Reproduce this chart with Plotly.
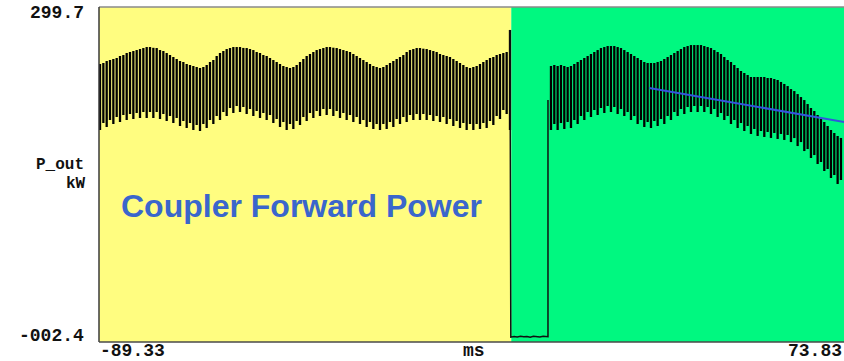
import plotly.graph_objects as go

# Scope trace: coupler forward power P_out (kW) against time (ms)
X_MIN_MS, X_MAX_MS = -89.33, 72.09
Y_MIN_KW, Y_MAX_KW = -2.4, 299.7
X_LEFT_LABEL, X_RIGHT_LABEL = "-89.33", "73.83"
Y_TOP_LABEL, Y_BOTTOM_LABEL = "299.7", "-002.4"

STEP_MS = 0.7222  # spacing between displayed sample columns

# Before the switch-over (t < 0): top / bottom of each sample column
pre_t0_ms = -89.11
pre_hi_kw = [
    248.3, 249.2, 251.0, 251.9, 252.8, 253.7, 255.5, 256.4, 258.2, 259.1,
    260.0, 260.9, 261.8, 262.7, 263.6, 263.6, 262.9, 262.7, 260.9, 260.0,
    258.2, 256.4, 254.6, 252.8, 251.0, 250.1, 248.3, 247.4, 246.5, 245.6,
    244.7, 245.6, 247.4, 250.1, 251.9, 255.5, 258.2, 260.0, 261.8, 262.7,
    263.6, 263.6, 263.6, 262.8, 262.7, 261.8, 260.9, 259.1, 258.2, 256.4,
    255.5, 253.7, 251.9, 250.1, 248.3, 246.5, 245.6, 244.7, 245.6, 247.4,
    250.1, 252.8, 255.5, 257.3, 259.1, 260.9, 261.8, 262.7, 263.6, 263.6,
    263.0, 262.7, 261.8, 260.9, 260.0, 259.1, 257.3, 255.5, 253.7, 251.9,
    250.1, 248.3, 246.5, 245.6, 244.7, 245.6, 247.4, 249.2, 251.0, 252.8,
    254.6, 256.4, 259.1, 260.9, 261.8, 262.7, 262.7, 262.1, 261.8, 260.9,
    260.0, 259.1, 257.3, 256.4, 255.5, 254.6, 252.8, 251.0, 249.2, 247.4,
    245.6, 244.7, 245.6, 246.5, 248.3, 250.1, 251.9, 253.7, 254.6, 256.4,
    257.3, 258.2, 259.1, 279.0,
]
pre_lo_kw = [
    188.8, 195.1, 191.5, 197.8, 194.2, 200.5, 196.0, 202.3, 197.8, 203.2,
    198.7, 204.1, 199.6, 205.0, 199.6, 205.0, 199.6, 205.0, 198.7, 203.2,
    196.9, 201.4, 195.1, 199.6, 192.4, 196.9, 190.6, 195.1, 188.8, 193.3,
    187.9, 194.2, 190.6, 197.8, 194.2, 201.4, 197.8, 205.0, 201.4, 208.6,
    204.1, 210.4, 205.0, 209.5, 203.2, 207.7, 201.4, 205.9, 199.6, 204.1,
    197.8, 202.3, 195.1, 198.7, 191.5, 196.0, 188.8, 194.2, 189.7, 196.9,
    193.3, 200.5, 196.9, 204.1, 199.6, 205.9, 201.4, 207.7, 202.3, 207.7,
    201.4, 205.9, 199.6, 204.1, 197.8, 202.3, 196.0, 200.5, 194.2, 197.8,
    191.5, 196.0, 189.7, 194.2, 188.8, 194.2, 189.7, 196.0, 191.5, 198.7,
    194.2, 200.5, 196.0, 202.3, 197.8, 203.2, 197.8, 203.2, 197.8, 202.3,
    196.9, 201.4, 196.0, 200.5, 194.2, 198.7, 192.4, 196.9, 190.6, 195.1,
    188.8, 194.2, 188.8, 194.2, 189.7, 195.1, 190.6, 196.9, 193.3, 201.4,
    198.7, 206.8, 203.2, 188.8,
]

# RF off: spike, drop to the baseline, and the turn-on edge
gap_t_ms = [-0.28, -0.10, 0.60, 1.30, 2.00, 2.70, 3.40, 4.10, 4.80,
            5.50, 6.20, 6.90, 7.60, 7.95, 7.95]
gap_kw = [279.0, 2.0, 2.5, 2.1, 2.7, 2.3, 2.6, 2.0, 2.8,
          2.4, 2.2, 2.7, 2.3, 2.4, 215.8]

# After the switch-over
post_t0_ms = 8.60
post_hi_kw = [
    246.5, 247.4, 246.5, 247.4, 246.5, 245.6, 246.5, 248.3, 250.1, 251.9,
    253.7, 255.5, 257.3, 259.1, 260.9, 262.7, 263.6, 264.5, 264.5, 264.5,
    263.6, 262.7, 260.9, 259.1, 257.3, 255.5, 253.7, 251.9, 250.1, 249.2,
    249.2, 249.2, 250.1, 251.0, 252.8, 254.6, 256.4, 258.2, 260.0, 261.8,
    263.6, 264.5, 265.4, 265.4, 265.4, 265.4, 264.5, 263.6, 262.7, 260.9,
    259.1, 257.3, 254.6, 251.9, 250.1, 247.4, 244.7, 242.0, 240.2, 238.4,
    236.6, 236.6, 236.6, 236.6, 236.6, 235.7, 235.7, 234.8, 233.9, 232.1,
    230.3, 228.4, 225.7, 223.9, 221.2, 218.5, 215.8, 212.2, 208.6, 205.9,
    202.3, 198.7, 196.0, 192.4, 188.8, 186.1, 183.4, 181.6,
]
post_lo_kw = [
    188.8, 194.2, 188.8, 195.1, 189.7, 196.0, 190.6, 197.8, 194.2, 201.4,
    197.8, 205.0, 200.5, 206.8, 202.3, 208.6, 204.1, 210.4, 205.0, 209.5,
    203.2, 207.7, 201.4, 205.0, 197.8, 201.4, 194.2, 197.8, 191.5, 196.0,
    190.6, 196.9, 192.4, 198.7, 194.2, 201.4, 197.8, 205.0, 201.4, 207.7,
    203.2, 209.5, 205.0, 210.4, 205.0, 210.4, 205.0, 209.5, 203.2, 207.7,
    200.5, 204.1, 197.8, 201.4, 194.2, 197.8, 190.6, 195.1, 187.9, 192.4,
    185.2, 189.7, 183.4, 187.9, 182.5, 187.0, 181.6, 186.1, 180.7, 185.2,
    179.8, 184.3, 177.9, 181.5, 174.3, 177.9, 169.8, 171.6, 163.5, 166.2,
    158.1, 159.9, 151.8, 153.6, 145.5, 148.2, 140.1, 143.7,
]

# Droop marker drawn over the post-switch pulse
trend_t_ms = [29.9, 73.83]
trend_kw = [226.7, 194.8]

YELLOW = "#FFFD80"
GREEN = "#00F880"
BLUE_TEXT = "#3A66CC"
BLUE_LINE = "#3355DD"


def columns(t0, hi, lo):
    xs, ys = [], []
    for i, (h, l) in enumerate(zip(hi, lo)):
        t = t0 + i * STEP_MS
        xs += [t, t, None]
        ys += [l, h, None]
    return xs, ys


pre_x, pre_y = columns(pre_t0_ms, pre_hi_kw, pre_lo_kw)
post_x, post_y = columns(post_t0_ms, post_hi_kw, post_lo_kw)

fig = go.Figure()
fig.add_trace(go.Scatter(x=pre_x, y=pre_y, mode="lines",
                         line=dict(color="#000000", width=2.3), hoverinfo="skip"))
fig.add_trace(go.Scatter(x=gap_t_ms, y=gap_kw, mode="lines",
                         line=dict(color="#101010", width=1.5), hoverinfo="skip"))
fig.add_trace(go.Scatter(x=post_x, y=post_y, mode="lines",
                         line=dict(color="#000000", width=2.3), hoverinfo="skip"))
fig.add_trace(go.Scatter(x=trend_t_ms, y=trend_kw, mode="lines",
                         line=dict(color=BLUE_LINE, width=2), hoverinfo="skip"))

shapes = [
    dict(type="rect", xref="x", yref="paper", x0=X_MIN_MS, x1=0, y0=0, y1=1,
         fillcolor=YELLOW, line=dict(width=0), layer="below"),
    dict(type="rect", xref="x", yref="paper", x0=0, x1=X_MAX_MS, y0=0, y1=1,
         fillcolor=GREEN, line=dict(width=0), layer="below"),
    dict(type="line", xref="paper", yref="paper", x0=0, x1=1, y0=1, y1=1,
         line=dict(color="#8A8A8A", width=1.5)),
    dict(type="line", xref="paper", yref="paper", x0=0, x1=0, y0=0, y1=1,
         line=dict(color="#3A3A3A", width=1.5)),
    dict(type="line", xref="paper", yref="paper", x0=0, x1=1, y0=0, y1=0,
         line=dict(color="#4A4A4A", width=1.5)),
]


def label(text, x, y, xanchor, size=18):
    return dict(text=text, x=x, y=y, xref="paper", yref="paper", showarrow=False,
                xanchor=xanchor, yanchor="middle", borderpad=0,
                font=dict(family="Liberation Mono", size=size, color="#111111",
                          weight="bold"))


annotations = [
    label(Y_TOP_LABEL, -0.0188, 0.982, "right"),
    label("P_out", -0.0188, 0.528, "right", 16),
    label("kW", -0.0161, 0.472, "right", 16),
    label(Y_BOTTOM_LABEL, -0.0188, 0.018, "right"),
    label(X_LEFT_LABEL, 0.0, -0.027, "left"),
    label("ms", 0.5034, -0.027, "center"),
    label(X_RIGHT_LABEL, 0.9987, -0.027, "right"),
    dict(text="Coupler Forward Power", x=0.0268, y=0.405, xref="paper", yref="paper",
         showarrow=False, xanchor="left", yanchor="middle",
         font=dict(family="Liberation Sans", size=32, color=BLUE_TEXT, weight="bold")),
]

fig.update_layout(
    width=844, height=361,
    margin=dict(l=99, r=0, t=7, b=19),
    paper_bgcolor="white", plot_bgcolor="white",
    showlegend=False,
    shapes=shapes, annotations=annotations,
    xaxis=dict(range=[X_MIN_MS, X_MAX_MS], visible=False, fixedrange=True),
    yaxis=dict(range=[Y_MIN_KW, Y_MAX_KW], visible=False, fixedrange=True),
)

fig.write_html("out.html", config={"displayModeBar": False})
